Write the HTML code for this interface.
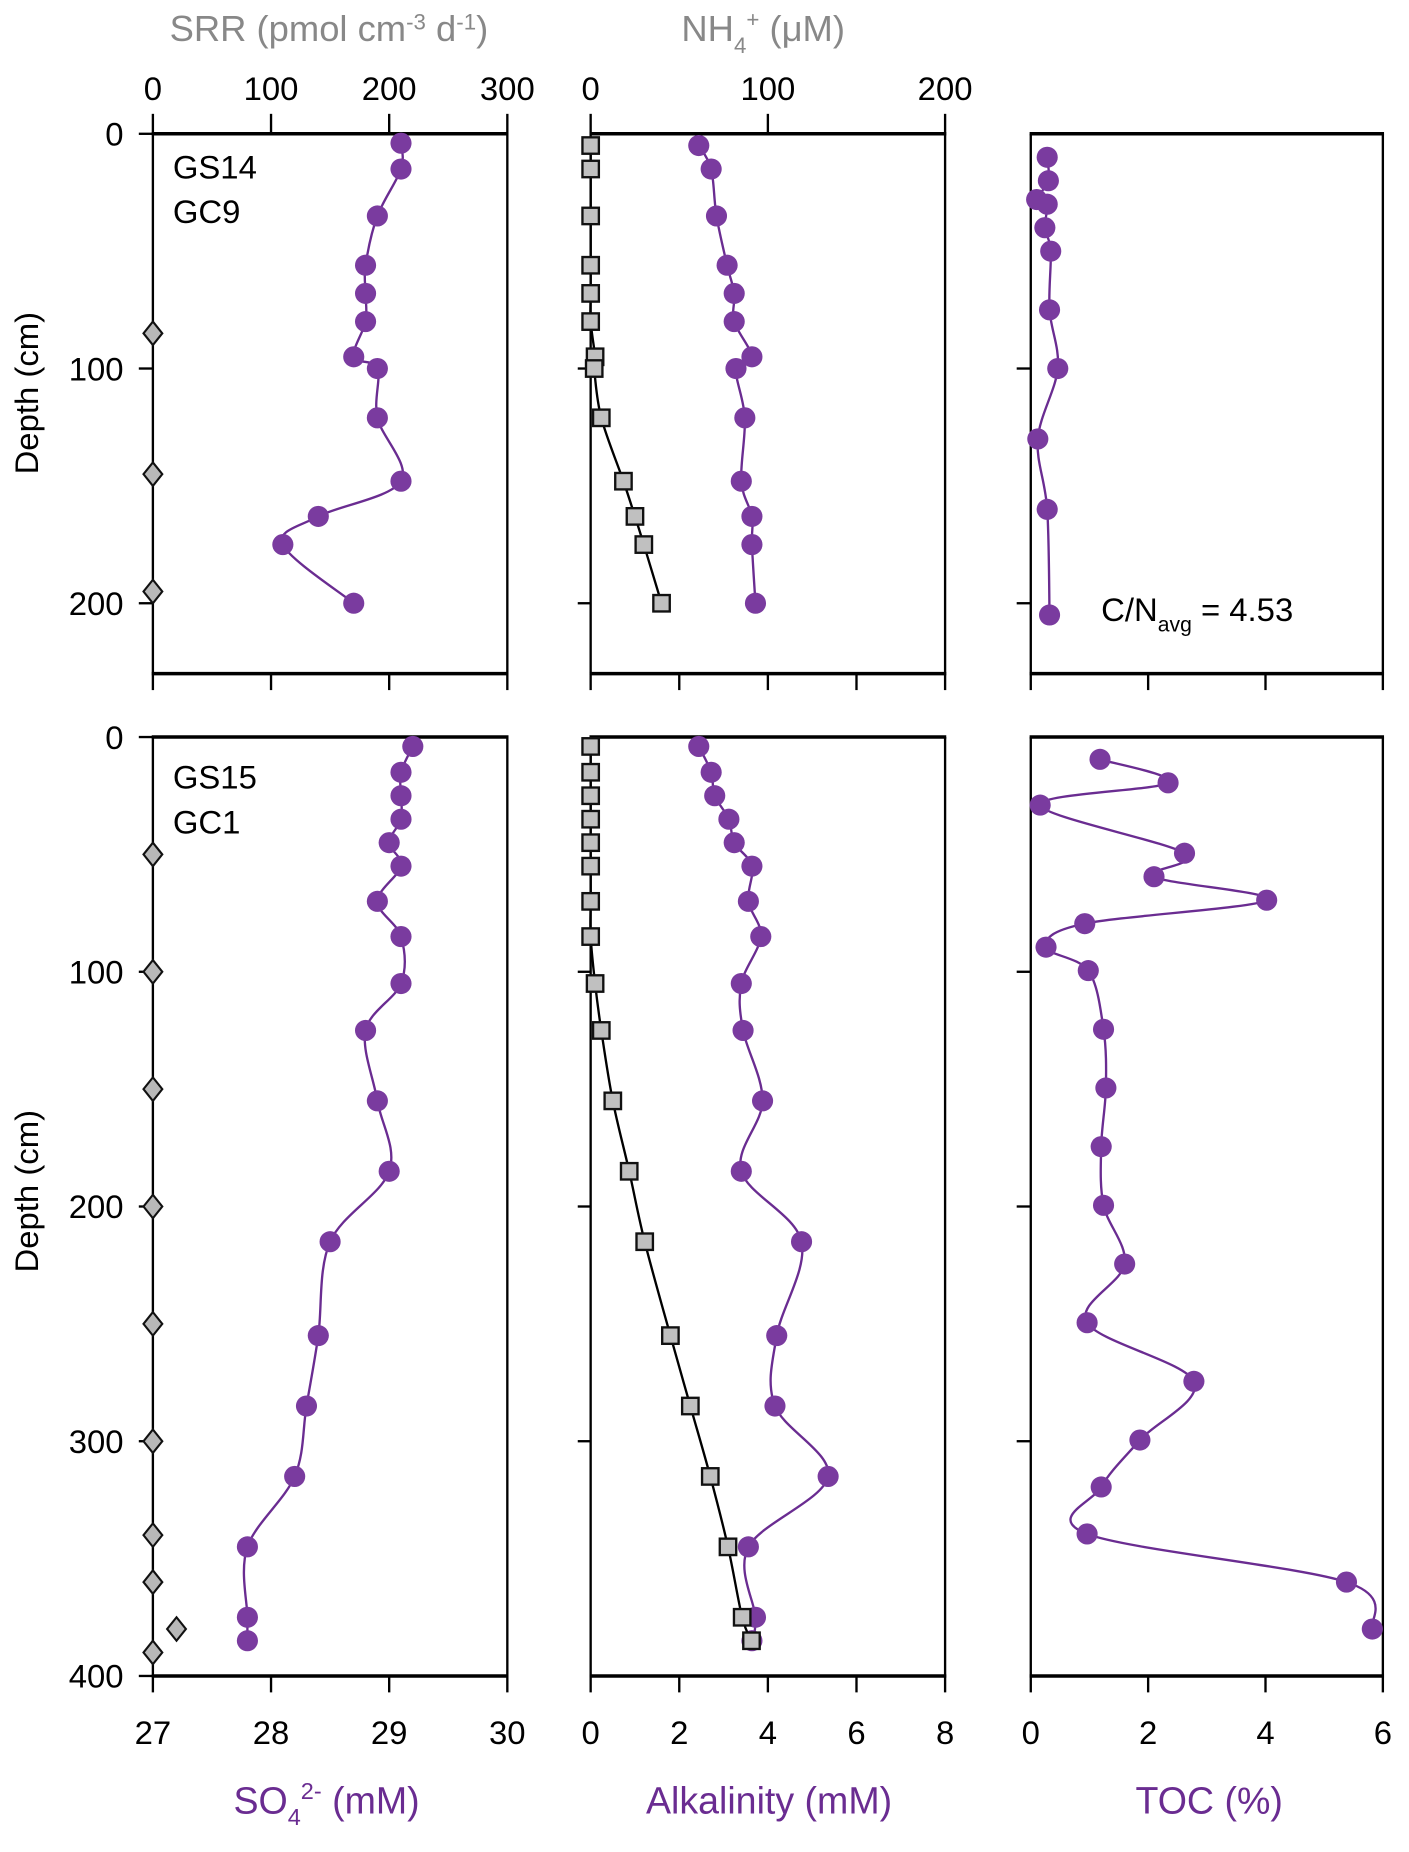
<!DOCTYPE html>
<html><head><meta charset="utf-8"><style>
html,body{margin:0;padding:0;background:#fff}
svg{display:block;font-family:"Liberation Sans",Arial,sans-serif}
</style></head><body>
<svg id="fig" width="1409" height="1852" viewBox="0 0 1200 1578" xmlns="http://www.w3.org/2000/svg"></svg>
<script>
// ---- data ----
const so4TopDepth=[4,15,35,56,68,80,95,100,121,148,163,175,200];
const so4TopVal=[29.1,29.1,28.9,28.8,28.8,28.8,28.7,28.9,28.9,29.1,28.4,28.1,28.7];
const srrTopDepth=[85,145,195];
const srrTopVal=[0,0,0];
const nh4TopDepth=[5,15,35,56,68,80,95,100,121,148,163,175,200];
const nh4TopVal=[61,68,71,77,81,81,91,82,87,85,91,91,93];
const alkTopDepth=[5,15,35,56,68,80,95,100,121,148,163,175,200];
const alkTopVal=[0,0,0,0,0,0,0.1,0.08,0.24,0.74,1.0,1.2,1.6];
const tocTopDepth=[10,20,28,30,40,50,75,100,130,160,205];
const tocTopVal=[0.28,0.3,0.1,0.28,0.24,0.34,0.32,0.46,0.12,0.28,0.32];

const so4BotDepth=[4,15,25,35,45,55,70,85,105,125,155,185,215,255,285,315,345,375,385];
const so4BotVal=[29.2,29.1,29.1,29.1,29.0,29.1,28.9,29.1,29.1,28.8,28.9,29.0,28.5,28.4,28.3,28.2,27.8,27.8,27.8];
const srrBotDepth=[50,100,150,200,250,300,340,360,380,390];
const srrBotVal=[0,0,0,0,0,0,0,0,20,0];
const nh4BotDepth=[4,15,25,35,45,55,70,85,105,125,155,185,215,255,285,315,345,375,385];
const nh4BotVal=[61,68,70,78,81,91,89,96,85,86,97,85,119,105,104,134,89,93,91];
const alkBotDepth=[4,15,25,35,45,55,70,85,105,125,155,185,215,255,285,315,345,375,385];
const alkBotVal=[0,0,0,0,0,0,0,0,0.1,0.24,0.5,0.87,1.22,1.8,2.25,2.7,3.1,3.42,3.63];
const tocBotDepth=[9.5,19.5,29,49.5,59.5,69.5,79.5,89.5,99.5,124.5,149.5,174.5,199.5,224.5,249.5,274.5,299.5,319.5,339.5,360,380];
const tocBotVal=[1.18,2.34,0.16,2.62,2.1,4.02,0.92,0.26,0.98,1.24,1.28,1.2,1.24,1.6,0.96,2.78,1.86,1.2,0.96,5.38,5.82];

const so4Ticks=[27,28,29,30];
const srrTicks=[0,100,200,300];
const alkTicks=[0,2,4,6,8];
const nh4Ticks=[0,100,200];
const tocTicks=[0,2,4,6];
const depthTopTicks=[0,100,200];
const depthBotTicks=[0,100,200,300,400];

// ---- helpers ----
const NS="http://www.w3.org/2000/svg";
const svg=document.getElementById('fig');
function el(tag,attrs,parent,text){const e=document.createElementNS(NS,tag);for(const k in attrs)e.setAttribute(k,attrs[k]);if(text!==undefined)e.textContent=text;(parent||svg).appendChild(e);return e;}
function lin(d0,d1,r0,r1){return v=>r0+(v-d0)/(d1-d0)*(r1-r0);}
const PURPLE="#6a2c91", MFILL="#7a3b9f";
const cols=[[130,432],[503,805],[878,1178]];
const yTop=lin(0,200,114,514), yBot=lin(0,400,628,1428);
const xSO4=lin(27,30,130,432), xSRR=lin(0,300,130,432);
const xAlk=lin(0,8,503,805), xNH4=lin(0,200,503,805);
const xTOC=lin(0,6,878,1178);

function smoothPath(pts){
  if(pts.length<2)return '';
  let d=`M${pts[0][0]},${pts[0][1]}`;
  for(let i=0;i<pts.length-1;i++){
    const p0=pts[i-1]||pts[i],p1=pts[i],p2=pts[i+1],p3=pts[i+2]||p2;
    const c1=[p1[0]+(p2[0]-p0[0])/6,p1[1]+(p2[1]-p0[1])/6];
    const c2=[p2[0]-(p3[0]-p1[0])/6,p2[1]-(p3[1]-p1[1])/6];
    d+=` C${c1[0]},${c1[1]} ${c2[0]},${c2[1]} ${p2[0]},${p2[1]}`;
  }
  return d;
}
function series(name,depths,vals,xs,ys,kind,line){
  const g=el('g',{});
  
  
  const pts=depths.map((d,i)=>[xs(vals[i]),ys(d)]);
  if(line){
    const p=el('path',{d:smoothPath(pts),fill:'none',stroke:line,'stroke-width':2},g);
    
    
  }
  pts.forEach(([x,y])=>{
    let m;
    if(kind==='circle') m=el('circle',{cx:x,cy:y,r:9,fill:MFILL},g);
    else if(kind==='square') m=el('rect',{x:x-7,y:y-7,width:14,height:14,fill:'#c0c0c0',stroke:'#111','stroke-width':2},g);
    else m=el('path',{d:`M${x},${y-10}L${x+8},${y}L${x},${y+10}L${x-8},${y}Z`,fill:'#b8b8b8',stroke:'#111','stroke-width':1.8},g);
    
    
  });
}
function box(name,x0,x1,y0,y1){
  const g=el('g',{stroke:'#000'});
  
  
  el('line',{x1:x0,y1:y0,x2:x0,y2:y1,'stroke-width':2},g);
  el('line',{x1:x1,y1:y0,x2:x1,y2:y1,'stroke-width':2},g);
  el('line',{x1:x0-1,y1:y0,x2:x1+1,y2:y0,'stroke-width':3},g);
  el('line',{x1:x0-1,y1:y1,x2:x1+1,y2:y1,'stroke-width':3},g);
}
function text(name,x,y,str,size,anchor,fill){
  const t=el('text',{x:x,y:y,'font-size':size,'text-anchor':anchor||'middle',fill:fill||'#000'},svg,str);
  
  
  return t;
}

// ---- boxes ----
cols.forEach((c,i)=>{box('panel-top-'+(i+1),c[0],c[1],114,574);box('panel-bottom-'+(i+1),c[0],c[1],628,1428);});

// ---- ticks ----
const tk=el('g',{stroke:'#000','stroke-width':2});


srrTicks.forEach(v=>el('line',{x1:xSRR(v),y1:97,x2:xSRR(v),y2:114},tk));
nh4Ticks.forEach(v=>el('line',{x1:xNH4(v),y1:97,x2:xNH4(v),y2:114},tk));
so4Ticks.forEach(v=>{el('line',{x1:xSO4(v),y1:574,x2:xSO4(v),y2:588},tk);el('line',{x1:xSO4(v),y1:1428,x2:xSO4(v),y2:1442},tk);});
alkTicks.forEach(v=>{el('line',{x1:xAlk(v),y1:574,x2:xAlk(v),y2:588},tk);el('line',{x1:xAlk(v),y1:1428,x2:xAlk(v),y2:1442},tk);});
tocTicks.forEach(v=>{el('line',{x1:xTOC(v),y1:574,x2:xTOC(v),y2:588},tk);el('line',{x1:xTOC(v),y1:1428,x2:xTOC(v),y2:1442},tk);});
depthTopTicks.forEach(v=>{el('line',{x1:118,y1:yTop(v),x2:130,y2:yTop(v)},tk);if(v>0){el('line',{x1:492,y1:yTop(v),x2:503,y2:yTop(v)},tk);el('line',{x1:866,y1:yTop(v),x2:878,y2:yTop(v)},tk);}});
depthBotTicks.forEach(v=>{el('line',{x1:118,y1:yBot(v),x2:130,y2:yBot(v)},tk);if(v>0&&v<400){el('line',{x1:492,y1:yBot(v),x2:503,y2:yBot(v)},tk);el('line',{x1:866,y1:yBot(v),x2:878,y2:yBot(v)},tk);}});

// ---- tick labels ----
srrTicks.forEach(v=>text('srr-tick-label',xSRR(v),85,String(v),28));
nh4Ticks.forEach(v=>text('nh4-tick-label',xNH4(v),85,String(v),28));
so4Ticks.forEach(v=>text('so4-tick-label',xSO4(v),1486,String(v),28));
alkTicks.forEach(v=>text('alk-tick-label',xAlk(v),1486,String(v),28));
tocTicks.forEach(v=>text('toc-tick-label',xTOC(v),1486,String(v),28));
depthTopTicks.forEach(v=>text('depth-tick-label',105,yTop(v)+10,String(v),28,'end'));
depthBotTicks.forEach(v=>text('depth-tick-label',105,yBot(v)+10,String(v),28,'end'));

// ---- titles ----
const t1=text('srr-axis-title',280,35,'',31,'middle','#888');
t1.innerHTML='SRR (pmol cm<tspan dy="-10" font-size="19">-3</tspan><tspan dy="10"> d</tspan><tspan dy="-10" font-size="19">-1</tspan><tspan dy="10">)</tspan>';
const t2=text('nh4-axis-title',650,35,'',31,'middle','#888');
t2.innerHTML='NH<tspan dy="10" font-size="19">4</tspan><tspan dy="-22" font-size="19">+</tspan><tspan dy="12"> (μM)</tspan>';
const t3=text('so4-axis-title',278,1545,'',32,'middle',PURPLE);
t3.innerHTML='SO<tspan dy="10" font-size="20">4</tspan><tspan dy="-22" font-size="20">2-</tspan><tspan dy="12"> (mM)</tspan>';
text('alkalinity-axis-title',655,1545,'Alkalinity (mM)',32,'middle',PURPLE);
text('toc-axis-title',1030,1545,'TOC (%)',32,'middle',PURPLE);
const yl1=text('depth-axis-title-top',0,0,'Depth (cm)',28);
yl1.setAttribute('transform','translate(32,335) rotate(-90)');
const yl2=text('depth-axis-title-bottom',0,0,'Depth (cm)',28);
yl2.setAttribute('transform','translate(32,1015) rotate(-90)');
text('core-label-gs14',147,152,'GS14',28,'start');
text('core-label-gc9',147,190,'GC9',28,'start');
text('core-label-gs15',147,672,'GS15',28,'start');
text('core-label-gc1',147,710,'GC1',28,'start');
const cn=text('cn-ratio-label',938,529,'',28,'start');
cn.innerHTML='C/N<tspan dy="9" font-size="18">avg</tspan><tspan dy="-9"> = 4.53</tspan>';

// ---- series ----
series('so4-gs14',so4TopDepth,so4TopVal,xSO4,yTop,'circle',PURPLE);
series('srr-gs14',srrTopDepth,srrTopVal,xSRR,yTop,'diamond',null);
series('nh4-gs14',nh4TopDepth,nh4TopVal,xNH4,yTop,'circle',PURPLE);
series('alk-gs14',alkTopDepth,alkTopVal,xAlk,yTop,'square','#000');
series('toc-gs14',tocTopDepth,tocTopVal,xTOC,yTop,'circle',PURPLE);
series('so4-gs15',so4BotDepth,so4BotVal,xSO4,yBot,'circle',PURPLE);
series('srr-gs15',srrBotDepth,srrBotVal,xSRR,yBot,'diamond',null);
series('nh4-gs15',nh4BotDepth,nh4BotVal,xNH4,yBot,'circle',PURPLE);
series('alk-gs15',alkBotDepth,alkBotVal,xAlk,yBot,'square','#000');
series('toc-gs15',tocBotDepth,tocBotVal,xTOC,yBot,'circle',PURPLE);
</script>
</body></html>
